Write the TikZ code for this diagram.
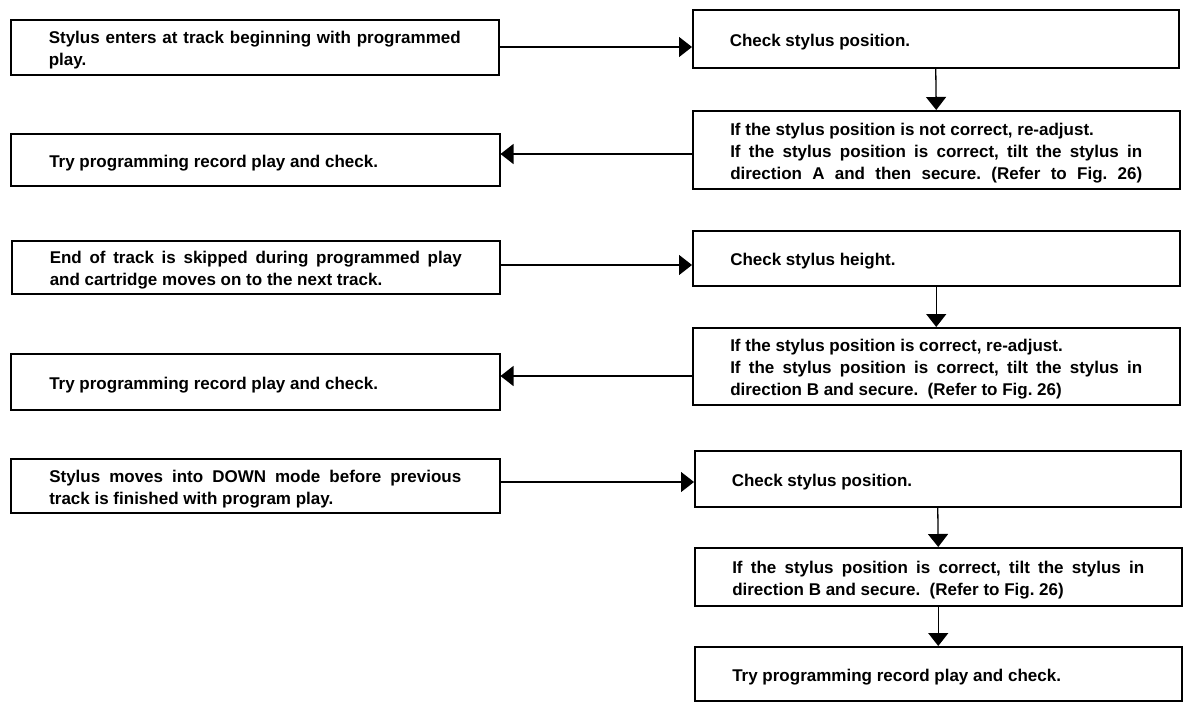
\documentclass[tikz,border=0pt]{standalone}
\usepackage{fontspec}
\setmainfont{Liberation Sans}
\usetikzlibrary{arrows.meta}
\frenchspacing
\newcommand{\jline}[1]{\makebox[412pt][s]{#1}}
\newcommand{\tb}[1]{\raisebox{-3pt}[\height][\depth]{\parbox[c]{412pt}{\raggedright #1}}}
\begin{document}
\begin{tikzpicture}[x=1pt,y=-1pt,
  flowbox/.style={draw, line width=1.5pt, rectangle, anchor=north west,
    inner xsep=36pt, inner ysep=0pt,
    font=\fontsize{17}{22}\selectfont\bfseries},
  arr/.style={line width=1.3pt, -{Triangle[length=13pt,width=20pt]}}]
\useasboundingbox (0,0) rectangle (1188,702);
% left column
\node[flowbox, minimum width=488pt, minimum height=55pt] (L1) at (10,19)
  {\tb{\jline{Stylus enters at track beginning with programmed}\\play.}};
\node[flowbox, minimum width=489pt, minimum height=52pt] (L2) at (10,133)
  {\tb{Try programming record play and check.}};
\node[flowbox, minimum width=488pt, minimum height=53pt] (L3) at (11,240)
  {\tb{\jline{End of track is skipped during programmed play}\\and cartridge moves on to the next track.}};
\node[flowbox, minimum width=489pt, minimum height=56pt] (L4) at (10,353)
  {\tb{Try programming record play and check.}};
\node[flowbox, minimum width=489pt, minimum height=54pt] (L5) at (10,458)
  {\tb{\jline{Stylus moves into DOWN mode before previous}\\track is finished with program play.}};
% right column
\node[flowbox, minimum width=486pt, minimum height=58pt] (R1) at (692,9)
  {\tb{Check stylus position.}};
\node[flowbox, minimum width=487pt, minimum height=78pt] (R2) at (692,110)
  {\tb{If the stylus position is not correct, re-adjust.\\\jline{If the stylus position is correct, tilt the stylus in}\\\jline{direction A and then secure. (Refer to Fig. 26)}}};
\node[flowbox, minimum width=487pt, minimum height=55pt] (R3) at (692,230)
  {\tb{Check stylus height.}};
\node[flowbox, minimum width=487pt, minimum height=77pt] (R4) at (692,327)
  {\tb{If the stylus position is correct, re-adjust.\\\jline{If the stylus position is correct, tilt the stylus in}\\direction B and secure.\ \ (Refer to Fig. 26)}};
\node[flowbox, minimum width=486pt, minimum height=56pt] (R5) at (694,450)
  {\tb{Check stylus position.}};
\node[flowbox, minimum width=487pt, minimum height=58pt] (R6) at (694,547)
  {\tb{\jline{If the stylus position is correct, tilt the stylus in}\\direction B and secure.\ \ (Refer to Fig. 26)}};
\node[flowbox, minimum width=487pt, minimum height=54pt] (R7) at (694,646)
  {\tb{Try programming record play and check.}};
% connectors
\draw[arr] (L1.east |- 0,47) -- (R1.west |- 0,47);
\draw[arr] (R1.south) -- (R2.north);
\draw[arr] (R2.west |- 0,154) -- (L2.east |- 0,154);
\draw[arr] (L3.east |- 0,265) -- (R3.west |- 0,265);
\draw[arr] (R3.south) -- (R4.north);
\draw[arr] (R4.west |- 0,376) -- (L4.east |- 0,376);
\draw[arr] (L5.east |- 0,482) -- (R5.west |- 0,482);
\draw[arr] (R5.south) -- (R6.north);
\draw[arr] (R6.south) -- (R7.north);
\end{tikzpicture}
\end{document}
